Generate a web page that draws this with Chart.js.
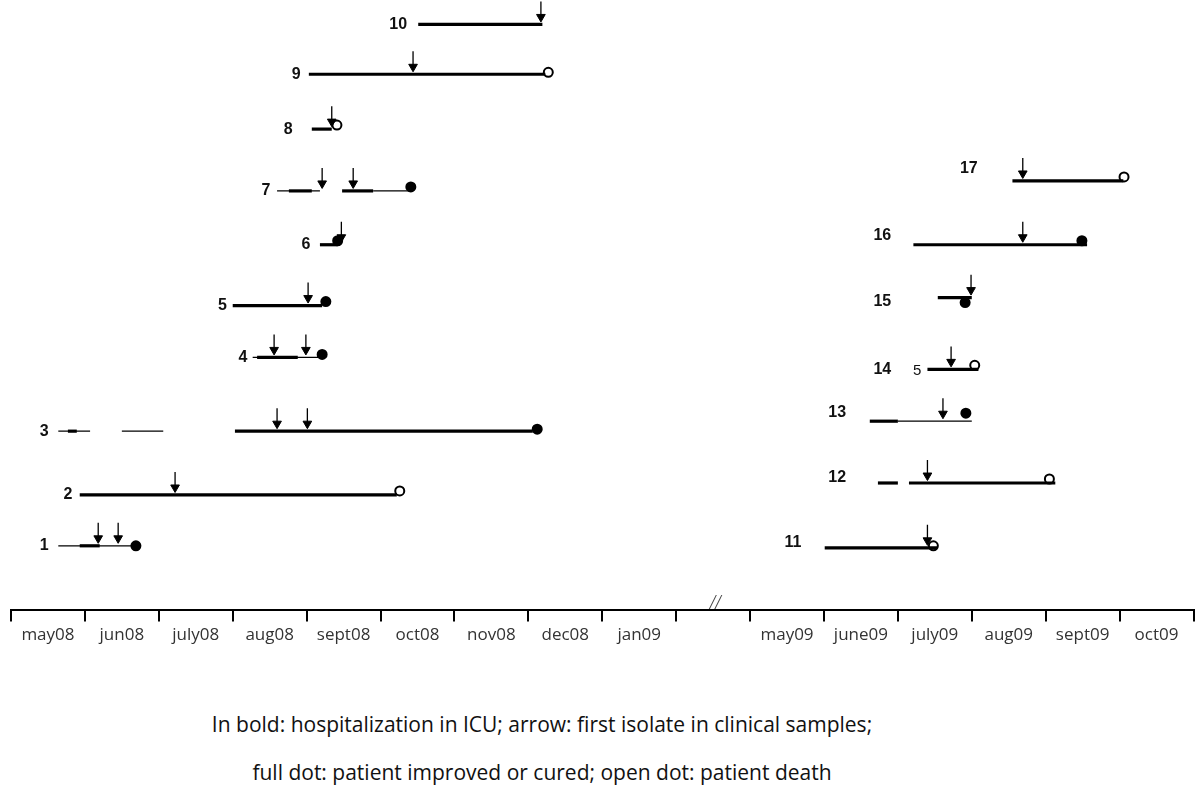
<!DOCTYPE html>
<html>
<head>
<meta charset="utf-8">
<script src="https://cdn.jsdelivr.net/npm/chart.js@4.4.1/dist/chart.umd.min.js"></script>
<style>
  body { margin: 0; background: #fff; overflow: hidden; }
  #wrap { position: relative; width: 1200px; height: 788px; overflow: hidden; }
  #box { position: absolute; left: 0; top: -5px; width: 1200px; height: 665px; }
  .cap { position: absolute; left: 0; width: 1084px; text-align: center; font-family: "Open Sans", Lato, sans-serif; font-size: 21px; color: #111; }
</style>
</head>
<body>
<div id="wrap">
  <div id="box"><canvas id="grafico"></canvas></div>
  <div class="cap" style="top:710px">In bold: hospitalization in ICU; arrow: first isolate in clinical samples;</div>
  <div class="cap" style="top:758px">full dot: patient improved or cured; open dot: patient death</div>
</div>
<script>
// month columns of the time axis (one empty column for the break)
const meses = ["may08", "jun08", "july08", "aug08", "sept08", "oct08", "nov08", "dec08", "jan09", "",
               "may09", "june09", "july09", "aug09", "sept09", "oct09"];

// patients, their row height and where the number sits
const pacientes = ["1","2","3","4","5","6","7","8","9","10","11","12","13","14","15","16","17"];
const linha   = [6.4, 11.5, 17.9, 25.3, 30.5, 36.6, 42.0, 48.2, 53.7, 58.7, 6.2, 12.7, 18.9, 24.1, 31.3, 36.6, 43.0];
const rotuloX = [0.45, 0.77, 0.45, 3.14, 2.86, 3.99, 3.45, 3.75, 3.86, 5.24, 10.58, 11.18, 11.18, 11.79, 11.79, 11.79, 12.96];
const rotuloY = [6.4, 11.5, 17.9, 25.3, 30.5, 36.6, 42.0, 48.2, 53.7, 58.7, 6.7, 13.2, 19.8, 24.1, 30.9, 37.5, 44.2];

// hospital stay (thin) : [patient index, start, end] in months from may08
const internacao = [
  [0, 0.64, 1.69], [2, 0.64, 1.07], [2, 1.50, 2.06], [3, 3.27, 4.21],
  [6, 3.60, 4.18], [6, 4.90, 5.41], [12, 12.00, 13.00]
];
// ICU stay (bold)
const uti = [
  [0, 0.93, 1.20], [1, 0.93, 5.22], [2, 0.77, 0.89], [2, 3.03, 7.06], [3, 3.33, 3.88],
  [4, 3.00, 4.21], [5, 4.18, 4.42], [6, 3.76, 4.07], [6, 4.48, 4.90], [7, 4.07, 4.34],
  [8, 4.03, 7.23], [9, 5.51, 7.19], [10, 11.01, 12.53], [11, 11.73, 12.00], [11, 12.15, 14.13],
  [12, 11.62, 12.00], [13, 12.40, 13.09], [14, 12.54, 13.00], [15, 12.21, 14.56], [16, 13.55, 15.05]
];
// first isolate in clinical samples
const isolado = [
  [0, 1.18], [0, 1.45], [1, 2.22], [2, 3.60], [2, 4.01], [3, 3.56], [3, 3.99], [4, 4.02],
  [5, 4.47], [6, 4.21], [6, 4.63], [7, 4.34], [8, 5.44], [9, 7.17], [10, 12.40], [11, 12.40],
  [12, 12.61], [13, 12.72], [14, 12.99], [15, 13.69], [16, 13.69]
];
// outcome dot: [patient, month, shift up, cured?]
const desfecho = [
  [0, 1.69, 0, true], [1, 5.26, 0.4, false], [2, 7.12, 0.2, true], [3, 4.21, 0.3, true],
  [4, 4.26, 0.4, true], [5, 4.42, 0.4, true], [6, 5.41, 0.4, true], [7, 4.41, 0.4, false],
  [8, 7.27, 0.2, false], [10, 12.48, 0.2, false], [11, 14.05, 0.4, false], [12, 12.92, 0.8, true],
  [13, 13.04, 0.4, false], [14, 12.91, -0.5, true], [15, 14.49, 0.4, true], [16, 15.06, 0.4, false]
];

const conjuntos = [];
internacao.forEach(function (s) {
  conjuntos.push({ data: [{x: s[1], y: linha[s[0]]}, {x: s[2], y: linha[s[0]]}],
    borderColor: "#000", borderWidth: 1.2, pointRadius: 0 });
});
uti.forEach(function (s) {
  conjuntos.push({ data: [{x: s[1], y: linha[s[0]]}, {x: s[2], y: linha[s[0]]}],
    borderColor: "#000", borderWidth: 3.2, pointRadius: 0 });
});
isolado.forEach(function (a) {
  const y = linha[a[0]];
  conjuntos.push({ data: [{x: a[1], y: y + 2.3}, {x: a[1], y: y + 0.6}],
    borderColor: "#000", borderWidth: 1.3, pointRadius: 0 });
  conjuntos.push({ type: "scatter", data: [{x: a[1], y: y + 0.75}],
    pointStyle: "triangle", rotation: 180, pointRadius: 5,
    backgroundColor: "#000", borderColor: "#000", borderWidth: 1 });
});
desfecho.forEach(function (d) {
  const p = {x: d[1], y: linha[d[0]] + d[2]};
  conjuntos.push({ type: "scatter", data: [p],
    pointStyle: "circle", pointRadius: 4.5,
    backgroundColor: d[3] ? "#000" : "#fff", borderColor: "#000", borderWidth: 2 });
  if (!d[3]) {
    // the slash inside the open dot
    conjuntos.push({ type: "scatter", data: [p],
      pointStyle: "line", rotation: -45, pointRadius: 3.5, borderColor: "#000", borderWidth: 1.5 });
  }
});

const textos = {
  id: "textos",
  afterDatasetsDraw(chart) {
    const ctx = chart.ctx, sx = chart.scales.x, sy = chart.scales.y;
    ctx.save();
    ctx.fillStyle = "#111";
    ctx.textAlign = "center";
    ctx.textBaseline = "middle";
    ctx.font = "bold 16px 'Liberation Sans', Arial, sans-serif";
    pacientes.forEach(function (p, i) {
      ctx.fillText(p, sx.getPixelForValue(rotuloX[i]), sy.getPixelForValue(rotuloY[i]));
    });
    ctx.font = "15px 'Liberation Sans', Arial, sans-serif";
    ctx.fillText("5", sx.getPixelForValue(12.26), sy.getPixelForValue(23.9));
    // break of the time axis
    ctx.font = "italic 20px 'Liberation Serif', serif";
    ctx.fillStyle = "#444";
    ctx.fillText("//", sx.getPixelForValue(9.53), sy.getPixelForValue(0.6));
    ctx.restore();
  }
};

const conf = {
  type: "line",
  data: { datasets: conjuntos },
  options: {
    responsive: true,
    maintainAspectRatio: false,
    animation: false,
    layout: { padding: { left: 11, right: 6, top: 0, bottom: 12 } },
    plugins: { legend: { display: false }, tooltip: { enabled: false } },
    clip: false,
    scales: {
      x: { type: "linear", display: false, min: 0, max: 16 },
      y: { type: "linear", display: false, min: 0, max: 61 },
      meses: {
        type: "category", position: "bottom", labels: meses, offset: true,
        grid: { offset: true, drawOnChartArea: false, drawTicks: true, tickLength: 12, color: "#000", lineWidth: 2 },
        border: { display: true, color: "#000", width: 2 },
        ticks: { color: "#333", padding: 3, autoSkip: false, maxRotation: 0,
                 font: { family: "'Open Sans', Lato, sans-serif", size: 17 } }
      }
    }
  },
  plugins: [textos]
};

new Chart(document.getElementById("grafico"), conf);
</script>
</body>
</html>
